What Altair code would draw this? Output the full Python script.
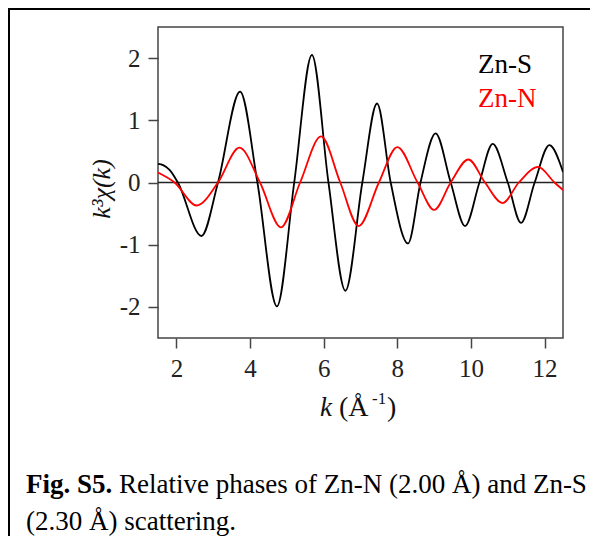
import altair as alt
import pandas as pd

# ---- data ----
k_S = [1.50, 1.64, 1.82, 2.04, 2.68, 3.13, 3.73, 4.20, 4.73, 5.20, 5.68, 6.13, 6.59,
       7.05, 7.45, 7.82, 8.29, 8.63, 9.04, 9.45, 9.84, 10.23, 10.59, 11.00, 11.36,
       11.73, 12.13, 12.50]
chi_S = [0.30, 0.28, 0.20, 0.00, -0.86, 0.00, 1.46, 0.00, -1.99, 0.00, 2.05, 0.00, -1.74,
         0.00, 1.27, 0.00, -0.98, 0.00, 0.79, 0.00, -0.70, 0.00, 0.62, 0.00, -0.65,
         0.00, 0.60, 0.17]

k_N = [1.50, 1.95, 2.55, 3.13, 3.71, 4.27, 4.84, 5.36, 5.93, 6.45, 6.95, 7.50, 8.00,
       8.55, 9.00, 9.45, 9.93, 10.38, 10.86, 11.30, 11.82, 12.27, 12.50]
chi_N = [0.16, 0.00, -0.37, 0.00, 0.56, 0.00, -0.72, 0.00, 0.74, 0.00, -0.70, 0.00, 0.57,
         0.00, -0.44, 0.00, 0.37, 0.00, -0.33, 0.00, 0.25, 0.00, -0.12]

series_names = ["Zn-S", "Zn-N"]
series_colors = ["#000000", "#ff0000"]
x_ticks = [2, 4, 6, 8, 10, 12]
y_ticks = [-2, -1, 0, 1, 2]

caption_bold = "Fig. S5."
caption_line1 = "Relative phases of Zn-N (2.00 Å) and Zn-S"
caption_line2 = "(2.30 Å) scattering."

SERIF = "Liberation Serif"
W, H = 405, 311

df = pd.concat([
    pd.DataFrame({"k": k_S, "chi": chi_S, "series": series_names[0]}),
    pd.DataFrame({"k": k_N, "chi": chi_N, "series": series_names[1]}),
])

x_scale = alt.Scale(domain=[1.5, 12.5], nice=False, zero=False)
y_scale = alt.Scale(domain=[-2.5, 2.5], nice=False, zero=False)

lines = alt.Chart(df).mark_line(interpolate="monotone", strokeWidth=1.8, clip=True).encode(
    x=alt.X("k:Q", scale=x_scale,
            axis=alt.Axis(values=x_ticks, title=None, grid=False, domain=False,
                          tickSize=10, tickWidth=1.5, tickColor="#444",
                          labelFont=SERIF, labelFontSize=25, labelColor="#222",
                          labelPadding=8, labelExpr="datum.value + ''")),
    y=alt.Y("chi:Q", scale=y_scale,
            axis=alt.Axis(values=y_ticks, title=None, grid=False, domain=False,
                          tickSize=10, tickWidth=1.5, tickColor="#444",
                          labelFont=SERIF, labelFontSize=25, labelColor="#222",
                          labelPadding=8, labelExpr="datum.value + ''")),
    color=alt.Color("series:N", scale=alt.Scale(domain=series_names, range=series_colors),
                    legend=None),
    detail="series:N",
)

zero_line = alt.Chart(pd.DataFrame({"z": [0]})).mark_rule(color="#222", strokeWidth=1.5).encode(
    y=alt.Y("z:Q", scale=y_scale)
)

one = pd.DataFrame({"_": [0]})


def label(text, x, y, size, align="left", baseline="alphabetic", **kw):
    return alt.Chart(one).mark_text(
        text=text, font=SERIF, fontSize=size, align=align, baseline=baseline, **kw
    ).encode(x=alt.value(x), y=alt.value(y))


leg_s = label(series_names[0], 320, 46, 27, color=series_colors[0])
leg_n = label(series_names[1], 320, 80, 27, color=series_colors[1])

x_title_k = label("k", 174, 389, 27, align="right", fontStyle="italic", color="#111")
x_title_a = label("(Å", 181, 389, 28, align="left", color="#111")
x_title_sup = label("-1", 214, 377, 17, align="left", color="#111")
x_title_close = label(")", 229, 389, 28, align="left", color="#111")

y_title = label("k³χ(k)", -56, 162, 26, align="center", baseline="middle",
                angle=270, fontStyle="italic", color="#111")

cap_b = label(caption_bold, -132, 466, 27, fontWeight="bold", color="#000")
cap_1 = label(caption_line1, -39, 466, 27, color="#000")
cap_2 = label(caption_line2, -132, 503, 27, color="#000")

border_left = alt.Chart(one).mark_rule(color="#000", strokeWidth=2).encode(
    x=alt.value(-149), y=alt.value(-18), y2=alt.value(530)
)
border_top = alt.Chart(one).mark_rule(color="#000", strokeWidth=2).encode(
    x=alt.value(-150), x2=alt.value(440), y=alt.value(-18)
)

chart = alt.layer(
    zero_line, lines, leg_s, leg_n, x_title_k, x_title_a, x_title_sup, x_title_close,
    y_title, cap_b, cap_1, cap_2, border_left, border_top,
).properties(
    width=W, height=H,
    autosize=alt.AutoSizeParams(type="none"),
    padding={"left": 150, "top": 19, "right": 27, "bottom": 198},
    background="white",
).configure_view(
    stroke="#444", strokeWidth=1.5
)

chart.save("out.html", embed_options={"renderer": "svg", "actions": False})
